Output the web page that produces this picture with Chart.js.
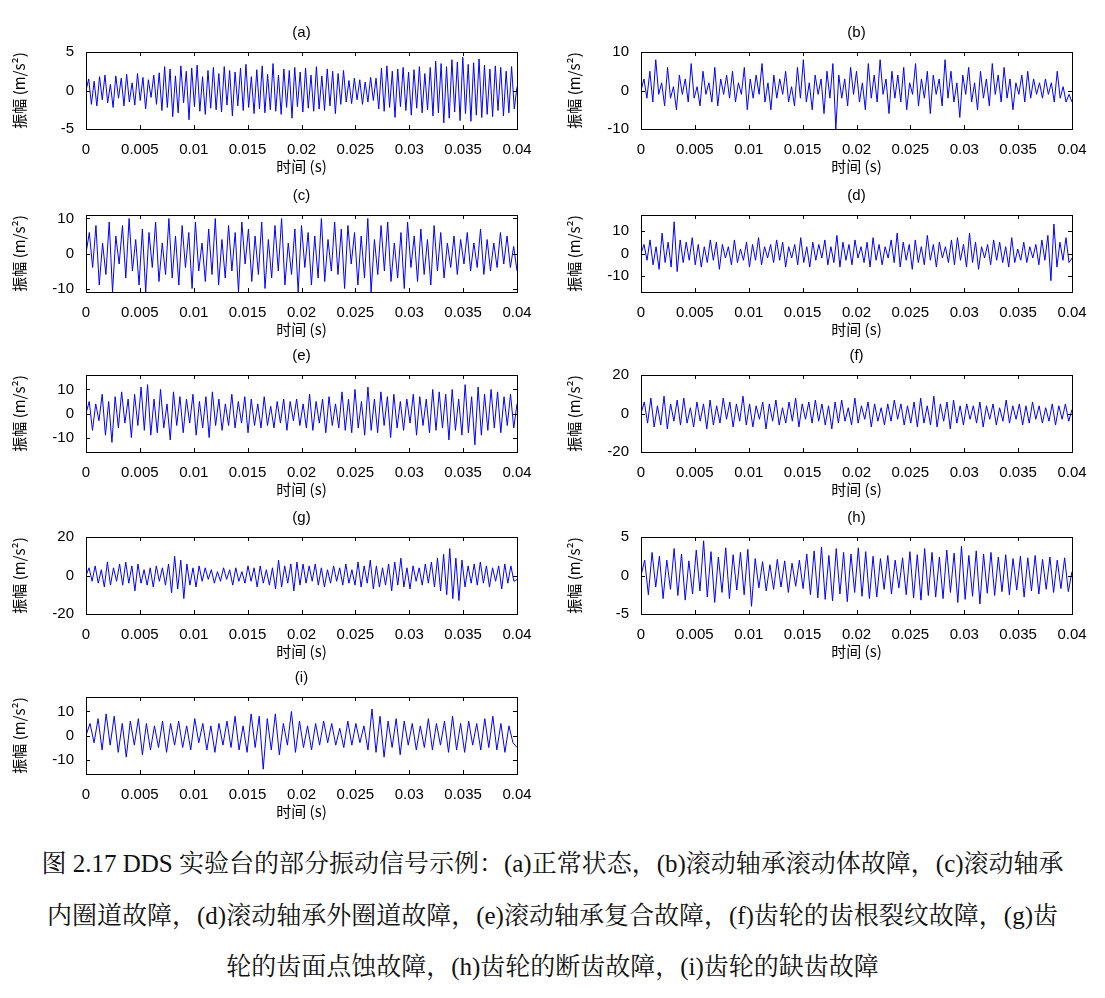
<!DOCTYPE html>
<html><head><meta charset="utf-8">
<script src="https://cdn.jsdelivr.net/npm/chart.js@4"></script>
<style>
body{margin:0;background:#fff;width:1105px;height:998px;position:relative;overflow:hidden}
.box{position:absolute}
.lbl{position:absolute;font:15px "Liberation Sans",Arial,sans-serif;color:#000;text-align:center}
.cap{position:absolute;left:0;width:1105px;text-align:center;font:25px "Liberation Serif","Noto Serif CJK SC","Noto Sans CJK SC",serif;color:#111;white-space:nowrap}
</style></head><body>
<script>
const panelLabels=["(a)","(b)","(c)","(d)","(e)","(f)","(g)","(h)","(i)"];
const xTicks=[0,0.005,0.01,0.015,0.02,0.025,0.03,0.035,0.04];
const yRanges=[[-5,5],[-10,10],[-11,11],[-17,17],[-16,16],[-20,20],[-20,20],[-5,5],[-16,16]];
const yTicks=[[-5,0,5],[-10,0,10],[-10,0,10],[-10,0,10],[-10,0,10],[-20,0,20],[-20,0,20],[-5,0,5],[-10,0,10]];
const sA=[0,1.5,-1.8,1.2,-2,1.8,-1.2,2,-1.6,0.8,-2.2,1.9,-1,1.6,-2,2.1,-1.5,1,-1.9,2.2,-1.3,1.7,-2.4,1.4,-0.9,2,-1.8,2.3,-2.6,3.1,-2.2,2.8,-3.4,1.9,-2.9,3.2,-1.6,2.5,-3.8,2.9,-2.1,3.3,-2.7,1.8,-3.1,2.6,-2.3,3,-2.5,2.2,-2.8,3.1,-1.9,2.6,-3.3,2.4,-2,2.9,-2.6,3.4,-2.2,1.8,-3,2.7,-2.4,3.2,-2.9,2.1,-2.5,3.5,-2.7,2,-3.1,2.8,-2.2,2.6,-3.6,3,-2.1,2.4,-2.8,2.9,-2.3,2,-2.7,3.1,-2.4,1.9,-2.6,2.8,-2,2.5,-3,2.2,-1.8,2.6,-1.5,1.3,-1.7,1.6,-1.2,1.4,-1.8,1.1,-1.5,1.7,-1.3,1.6,-2.4,2.9,-2.7,3.2,-2.2,2.5,-3.5,2.8,-2.1,3,-2.6,2.4,-3.2,2.7,-2.3,3.1,-2.9,2.2,-2.5,3,-3.3,3.8,-2.9,3.5,-4.2,3.1,-3.6,4,-2.8,3.7,-3.9,4.3,-3,3.4,-4,3.6,-3.2,4.1,-3.5,3.3,-3.1,2.8,-3.4,3.2,-2.6,3,-3.3,2.5,-2.9,3.1,-2.4,0.5];
const sB=[0,3,-2,5,-3,8,-1,2,-4,6,-2,1,-5,4,-1,3,-3,7,-2,1,-4,5,-1,2,-3,6,-4,3,-1,4,-2,5,-3,2,-1,6,-5,3,-2,4,-1,7,-3,2,-5,4,-2,3,-1,5,-3,1,-4,6,-2,8,-3,2,-5,4,-1,3,-6,5,-2,7,-10,4,-2,3,-4,6,-1,5,-3,2,-5,7,-2,4,-3,8,-1,3,-6,5,-2,4,-3,6,-5,2,-1,7,-4,3,-2,5,-6,4,-1,3,-4,8,-2,5,-3,2,-7,4,-1,6,-3,2,-5,5,-2,3,-4,7,-1,4,-3,6,-2,3,-5,2,-1,4,-3,5,-2,3,-1,2,-2,3,-1,2,-3,5,-2,1,-3,-1,-3];
const sC=[0,6,-4,8,-9,3,-6,9,-11,5,-3,8,-7,10,-5,4,-9,7,-11,6,-4,9,-8,3,-6,10,-7,5,-9,8,-4,6,-10,9,-5,3,-8,7,-6,10,-9,4,-7,8,-5,6,-11,9,-3,7,-8,5,-6,9,-10,4,-7,8,-5,10,-9,3,-6,7,-11,8,-4,6,-9,5,-7,10,-8,4,-5,9,-6,7,-10,8,-3,6,-9,5,-7,10,-11,4,-6,8,-5,9,-8,3,-7,6,-10,9,-4,5,-8,7,-6,4,-9,8,-5,6,-7,3,-4,5,-6,4,-3,6,-5,3,-4,7,-6,4,-5,3,-4,6,-3,5,-4,2,-5];
const sD=[0,4,-3,6,-5,3,-7,9,-4,5,-6,14,-8,6,-4,5,-3,7,-5,4,-6,3,-4,6,-3,5,-7,4,-2,3,-5,6,-4,2,-3,5,-6,4,-3,7,-5,3,-2,4,-4,6,-3,5,-6,3,-2,4,-5,7,-4,3,-6,5,-3,4,-2,6,-5,3,-4,8,-6,5,-3,4,-5,6,-2,3,-4,5,-6,7,-3,4,-5,3,-2,6,-4,9,-6,5,-3,4,-7,6,-4,3,-5,8,-3,4,-6,5,-2,3,-4,6,-5,7,-3,4,-6,9,-4,5,-7,3,-2,4,-5,6,-3,5,-4,3,-6,7,-4,2,-3,5,-4,3,-2,4,-5,6,-3,8,-12,13,-6,5,-3,7,-4,-2];
const sE=[0,5,-7,4,-3,8,-9,5,-12,7,-6,9,-4,6,-10,8,-5,11,-7,12,-9,6,-8,10,-6,4,-11,9,-5,7,-8,6,-4,8,-9,5,-6,7,-10,9,-5,6,-7,4,-5,8,-6,5,-4,7,-8,6,-5,4,-6,7,-5,3,-6,5,-4,6,-7,5,-3,6,-5,4,-6,8,-7,5,-4,6,-8,7,-5,4,-6,9,-7,6,-8,10,-6,5,-9,11,-7,6,-8,9,-5,7,-10,8,-6,5,-7,6,-4,8,-9,7,-5,6,-8,10,-7,9,-6,8,-11,10,-7,6,-9,12,-8,7,-13,11,-9,8,-7,10,-6,9,-8,7,-5,8,-6,4];
const sF=[0,6,-5,8,-7,4,-6,9,-8,5,-4,7,-6,8,-5,3,-7,6,-4,5,-8,7,-6,4,-5,8,-3,6,-7,5,-4,9,-6,5,-7,4,-3,6,-8,5,-4,7,-6,3,-5,6,-4,8,-7,5,-3,6,-5,7,-4,5,-6,4,-8,6,-5,7,-4,3,-6,8,-5,4,-3,6,-7,5,-4,3,-6,5,-4,7,-3,5,-6,4,-5,6,-7,8,-5,4,-6,9,-7,5,-4,6,-8,7,-5,4,-6,5,-3,4,-5,6,-7,4,-3,5,-6,3,-4,7,-5,4,-3,5,-6,4,-5,6,-3,4,-5,3,-4,5,-6,4,-3,5,-4,2];
const sG=[0,4,-3,5,-4,3,-6,7,-5,4,-3,6,-5,7,-4,5,-8,6,-4,3,-5,4,-6,5,-3,4,-5,6,-9,10,-7,8,-12,6,-5,4,-6,5,-3,4,-2,3,-4,2,-3,4,-2,3,-5,4,-3,2,-4,5,-3,4,-6,5,-4,3,-5,4,-7,8,-6,5,-4,6,-8,7,-5,6,-4,5,-3,6,-5,4,-6,3,-4,5,-3,4,-5,6,-4,3,-5,7,-6,5,-4,8,-7,5,-6,4,-5,6,-8,7,-5,9,-6,4,-7,5,-3,4,-5,6,-4,7,-6,9,-8,11,-10,14,-12,9,-13,8,-6,5,-4,6,-5,7,-4,5,-6,4,-3,5,-7,6,-4,5,-3,-2];
const sH=[0,2,-2.5,3,-1.5,2.5,-3,2,-1.8,3.5,-2.6,2.8,-3.2,1.9,-2.4,3.3,-2,4.5,-2.8,3.1,-3.5,2.4,-2.2,3.6,-3,2.7,-1.9,3,-2.5,3.4,-4,2.2,-1.6,1.8,-2,1.4,-1.8,2.1,-1.5,1.9,-2.2,1.6,-1.4,2,-1.7,2.8,-2.5,3.2,-2.9,3.7,-3.1,2.6,-3.3,3.5,-2.4,3,-3.4,2.8,-2.2,3.6,-2.7,3.1,-3,2.5,-2.8,2.2,-1.8,2.6,-2.4,2,-1.6,2.3,-2.5,3.1,-2.9,2.7,-3.2,3.5,-2.6,3,-2.8,2.4,-3,3.3,-2.2,2.9,-3.5,3.8,-3.1,2.6,-2.7,3.2,-3.7,2.8,-2.3,3,-2.6,2.4,-2.1,2.7,-2.5,2.2,-1.9,2.5,-2.8,2.3,-2,2.6,-2.4,2.1,-1.8,2.4,-2.2,2,-1.7,2.3,-2.1,0.5];
const sI=[0,5,-3,7,-6,9,-4,8,-7,5,-9,6,-4,7,-8,5,-6,4,-5,6,-7,5,-4,6,-5,4,-6,7,-3,5,-6,4,-7,5,-4,6,-5,8,-6,4,-7,9,-5,8,-14,7,-6,9,-8,5,-4,10,-7,6,-5,4,-6,5,-4,6,-3,5,-4,3,-5,6,-4,5,-3,4,-6,11,-7,8,-9,6,-5,7,-8,6,-4,5,-6,4,-5,7,-6,5,-4,6,-7,8,-6,5,-7,6,-4,5,-6,7,-5,8,-6,5,-7,4,-3,-5];
const series=[sA,sB,sC,sD,sE,sF,sG,sH,sI];

const plotW=431,plotH=82,lefts=[86,641],tops=[47,210,370,532,692];
const LW=80,TP=8,RP=22,BH=50;
const font='"Liberation Sans", Arial, sans-serif';
const frame={id:'frame',afterDraw(c){const a=c.chartArea,x=c.ctx;x.save();x.strokeStyle='#000';x.lineWidth=1;
x.strokeRect(Math.round(a.left)+0.5,Math.round(a.top)+0.5,Math.round(a.right-a.left),Math.round(a.bottom-a.top));
x.beginPath();c.scales.x.ticks.forEach(t=>{const p=Math.round(c.scales.x.getPixelForValue(t.value))+0.5;x.moveTo(p,a.bottom);x.lineTo(p,a.bottom-4);x.moveTo(p,a.top);x.lineTo(p,a.top+4);});
c.scales.y.ticks.forEach(t=>{const p=Math.round(c.scales.y.getPixelForValue(t.value))+0.5;x.moveTo(a.left,p);x.lineTo(a.left+4,p);x.moveTo(a.right,p);x.lineTo(a.right-4,p);});
x.stroke();x.restore();}};
series.forEach((s,i)=>{
  const col=i%2,row=Math.floor(i/2);
  const L=lefts[col],T=tops[row];
  const d=document.createElement('div');d.className='box';
  d.style.left=(L-LW)+'px';d.style.top=(T-TP)+'px';d.style.width=(plotW+LW+RP)+'px';d.style.height=(plotH+TP+BH)+'px';
  const cv=document.createElement('canvas');d.appendChild(cv);document.body.appendChild(d);
  const t=document.createElement('div');t.className='lbl';t.textContent=panelLabels[i];
  t.style.left=L+'px';t.style.width=plotW+'px';t.style.top=(T-24)+'px';document.body.appendChild(t);
  const n=s.length;
  const pts=s.map((v,k)=>({x:0.04*k/(n-1),y:v}));
  new Chart(cv,{type:'line',data:{datasets:[{data:pts,borderColor:'#0000ff',borderWidth:1,pointRadius:0,tension:0,fill:false}]},
  options:{responsive:true,maintainAspectRatio:false,animation:false,
   layout:{padding:{top:TP,right:RP,left:0,bottom:0}},
   plugins:{legend:{display:false},tooltip:{enabled:false}},
   scales:{
    x:{type:'linear',min:0,max:0.04,grid:{display:false},border:{display:false},
      afterBuildTicks:sc=>{sc.ticks=xTicks.map(v=>({value:v}));},
      afterFit:sc=>{sc.height=BH;},
      ticks:{color:'#000',font:{family:font,size:15},maxRotation:0,padding:4,callback:v=>String(Number(v.toFixed(3)))},
      title:{display:true,text:'时间 (s)',color:'#000',font:{family:'"Noto Sans CJK SC", '+font,size:15},padding:{top:0}}},
    y:{min:yRanges[i][0],max:yRanges[i][1],grid:{display:false},border:{display:false},
      afterBuildTicks:sc=>{sc.ticks=yTicks[i].map(v=>({value:v}));},
      afterFit:sc=>{sc.width=LW;},
      ticks:{color:'#000',font:{family:font,size:15},padding:4},
      title:{display:true,text:'振幅 (m/s²)',color:'#000',font:{family:'"Noto Sans CJK SC", '+font,size:15},padding:{bottom:2}}}
   }},plugins:[frame]});
});
</script>
<div class="cap" style="top:843px">图 2.17 DDS 实验台的部分振动信号示例：(a)正常状态，(b)滚动轴承滚动体故障，(c)滚动轴承</div>
<div class="cap" style="top:895px">内圈道故障，(d)滚动轴承外圈道故障，(e)滚动轴承复合故障，(f)齿轮的齿根裂纹故障，(g)齿</div>
<div class="cap" style="top:946px">轮的齿面点蚀故障，(h)齿轮的断齿故障，(i)齿轮的缺齿故障</div>
</body></html>
